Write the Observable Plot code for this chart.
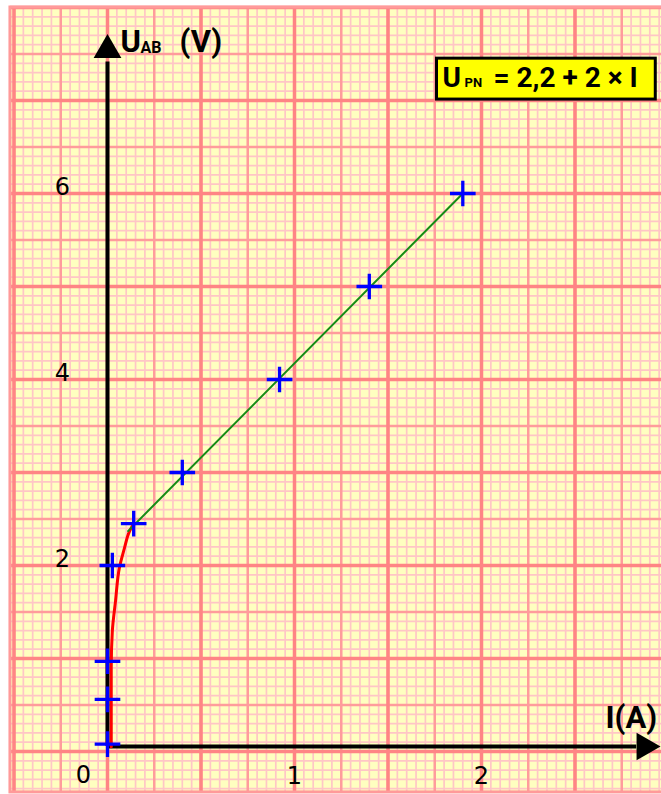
<!DOCTYPE html>
<html><head><meta charset="utf-8">
<script src="https://cdn.jsdelivr.net/npm/d3@7"></script>
<script src="https://cdn.jsdelivr.net/npm/@observablehq/plot@0.6"></script>
<style>html,body{margin:0;padding:0;background:#fff;} #chart svg{display:block}</style>
</head><body><div id="chart"></div>
<script>
// Measured points: current I (A) and voltage U_AB (V)
const currentA = [0, 0, 0, 0.026, 0.14, 0.40, 0.92, 1.40, 1.90];
const voltageV = [0.08, 0.56, 0.97, 2.0, 2.45, 3.0, 4.0, 5.0, 6.0];
// Hand-drawn red curve (low current region)
const curveI = [0.02, 0.02, 0.026, 0.043, 0.064, 0.091, 0.112, 0.139];
const curveU = [0.05, 0.9, 1.3, 1.62, 1.98, 2.19, 2.34, 2.45];
// Green linear part U_PN = 2,2 + 2 x I
const fitI = [0.11, 1.90];
const fitU = [2.37, 6.0];
// Tick labels
const yTicks = [2, 4, 6];
const xTicks = [1, 2];
const originLabel = ["0"];
const yLabelParts = ["U", "AB", "(V)"];
const xLabel = ["I(A)"];
const boxParts = ["U", "PN", "= 2,2 + 2 × I"];

// Graph paper grid (decoration)
const paperX = [-0.519, 3.2], paperY = [-0.44, 8.0];
const minorX = d3.range(-10, 64).map(i => i / 20);
const minorY = d3.range(-4, 81).map(i => i / 10);
const midX = d3.range(-2, 13).map(i => i / 4);
const midY = d3.range(-0, 17).map(i => i / 2);
const majX = d3.range(-1, 7).map(i => i / 2);
const majY = d3.range(0, 9);

const points = currentA.map((x, i) => ({x, y: voltageV[i]}));
const curve = curveI.map((x, i) => ({x, y: curveU[i]}));
const fit = fitI.map((x, i) => ({x, y: fitU[i]}));

const W = 661, H = 794;
const x0 = 107, pxA = 187, y0 = 751, pxV = 93;
const xDomain = [-x0 / pxA, (W - x0) / pxA];
const yDomain = [-(H - y0) / pxV, y0 / pxV];

const labelFont = "Roboto,'Liberation Sans',sans-serif";
const tickFont = "'DejaVu Sans',Verdana,sans-serif";

const gridY = (vals, stroke, w) => Plot.ruleY(vals, {x1: paperX[0], x2: paperX[1], stroke, strokeWidth: w});
const gridX = (vals, stroke, w) => Plot.ruleX(vals, {y1: paperY[0], y2: paperY[1], stroke, strokeWidth: w});

const chart = Plot.plot({
  width: W, height: H,
  marginTop: 0, marginRight: 0, marginBottom: 0, marginLeft: 0,
  style: {background: "#fff", overflow: "hidden"},
  x: {domain: xDomain, axis: null},
  y: {domain: yDomain, axis: null},
  marks: [
    Plot.rect([0], {x1: paperX[0], x2: paperX[1], y1: paperY[0], y2: paperY[1], fill: "#ffffc0"}),
    gridX(minorX, "#ffc6c6", 1.7),
    gridY(minorY, "#ffc6c6", 1.7),
    gridX(midX, "#ff9c9c", 2.5),
    gridY(midY, "#ff9c9c", 2.5),
    gridX(majX, "#ff8585", 3.5),
    gridY(majY, "#ff8585", 3.5),
    Plot.rect([0], {x1: paperX[0], x2: paperX[1], y1: paperY[0], y2: paperY[1], fill: "none", stroke: "#ff9a9a", strokeWidth: 3}),
    // axes
    Plot.ruleY([0], {x1: 0, x2: 2.83, stroke: "black", strokeWidth: 4, dy: -5}),
    Plot.ruleX([0], {y1: 0, y2: 7.36, stroke: "black", strokeWidth: 4, dy: -5}),
    Plot.dot([0], {x: 0, y: 7.49, symbol: "triangle", r: 10.3, fill: "black", stroke: "none", dy: -5}),
    Plot.dot([0], {x: 2.872, y: 0, symbol: "triangle", r: 10.3, fill: "black", stroke: "none", rotate: 90, dy: -5}),
    // curves
    Plot.line(curve, {x: "x", y: "y", stroke: "#ff0000", strokeWidth: 3, curve: "monotone-y"}),
    Plot.line(fit, {x: "x", y: "y", stroke: "#158c15", strokeWidth: 2}),
    Plot.dot(points, {x: "x", y: "y", symbol: "plus", r: 8.3, stroke: "#0000ff", strokeWidth: 3.3}),
    // tick labels
    Plot.text(yTicks, {x: 0, y: d => d, text: d => String(d), dx: -45, dy: -6, fontSize: 24, fontFamily: tickFont, fill: "black"}),
    Plot.text(xTicks, {x: d => d, y: 0, text: d => String(d), dy: 25, fontSize: 24, fontFamily: tickFont, fill: "black"}),
    Plot.text(originLabel, {x: 0, y: 0, text: d => d, dx: -24, dy: 24, fontSize: 24, fontFamily: tickFont, fill: "black"}),
    // axis labels
    Plot.text([yLabelParts[0]], {x: 0, y: 7.63, text: d => d, textAnchor: "start", dx: 13, fontSize: 31, fontWeight: "bold", fontFamily: labelFont, fill: "black"}),
    Plot.text([yLabelParts[1]], {x: 0, y: 7.63, text: d => d, textAnchor: "start", dx: 33, dy: 6, fontSize: 16, fontWeight: "bold", fontFamily: labelFont, fill: "black"}),
    Plot.text([yLabelParts[2]], {x: 0, y: 7.63, text: d => d, textAnchor: "start", dx: 72, fontSize: 31, fontWeight: "bold", fontFamily: labelFont, fill: "black"}),
    Plot.text(xLabel, {x: 2.663, y: 0, text: d => d, textAnchor: "start", dy: -33, fontSize: 31, fontWeight: "bold", fontFamily: labelFont, fill: "black"}),
    // equation box
    Plot.rect([0], {x1: 1.762, x2: 2.932, y1: 7.01, y2: 7.45, fill: "#ffff00", stroke: "black", strokeWidth: 3}),
    Plot.text([boxParts[0]], {x: 1.754, y: 7.24, text: d => d, textAnchor: "start", dx: 7, fontSize: 28, fontWeight: "bold", fontFamily: labelFont, fill: "black"}),
    Plot.text([boxParts[1]], {x: 1.754, y: 7.24, text: d => d, textAnchor: "start", dx: 29, dy: 5, fontSize: 13, fontWeight: "bold", fontFamily: labelFont, fill: "black"}),
    Plot.text([boxParts[2]], {x: 1.754, y: 7.24, text: d => d, textAnchor: "start", dx: 58, fontSize: 28, fontWeight: "bold", fontFamily: labelFont, fill: "black"})
  ]
});
document.getElementById("chart").appendChild(chart);
</script>
</body></html>
